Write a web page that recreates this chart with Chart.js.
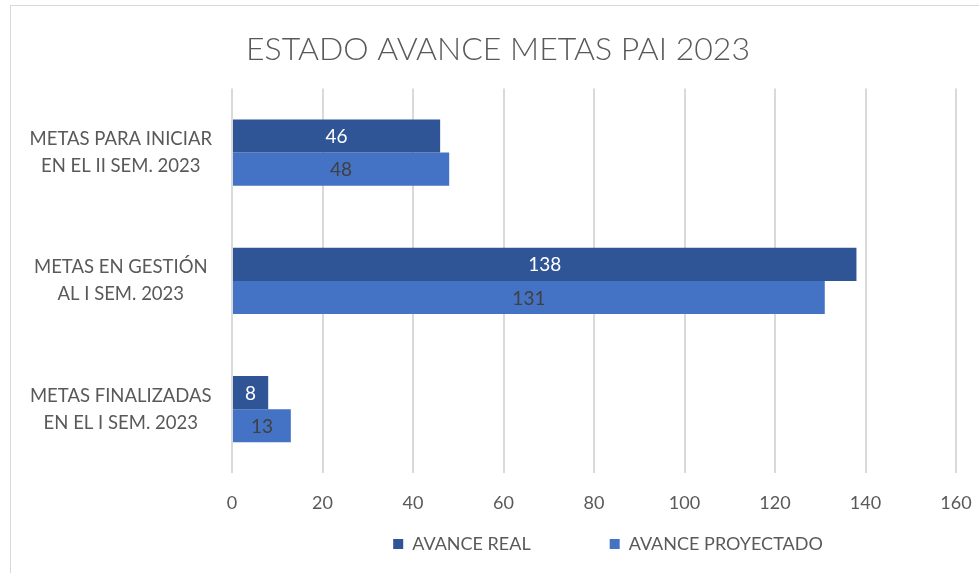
<!DOCTYPE html>
<html><head><meta charset="utf-8">
<script src="https://cdn.jsdelivr.net/npm/chart.js@4.4.0/dist/chart.umd.min.js"></script>
<style>html,body{margin:0;padding:0;background:#fff;}#wrap{width:979px;height:573px;position:relative;}</style>
</head><body><div id="wrap"><canvas id="c" width="979" height="573"></canvas></div>
<script>
const categories = [["METAS PARA INICIAR","EN EL II SEM. 2023"],["METAS EN GESTIÓN","AL I SEM. 2023"],["METAS FINALIZADAS","EN EL I SEM. 2023"]];
const avanceReal = [46, 138, 8];
const avanceProyectado = [48, 131, 13];
const seriesNames = ["AVANCE REAL", "AVANCE PROYECTADO"];
const chartTitle = "ESTADO AVANCE METAS PAI 2023";
const FONT = "Lato, 'Open Sans', sans-serif";

const borderPlugin = {
  id: 'border',
  beforeDraw(chart) {
    const ctx = chart.ctx;
    ctx.save();
    ctx.fillStyle = '#fff';
    ctx.fillRect(0,0,chart.width,chart.height);
    ctx.strokeStyle = '#d9d9d9';
    ctx.lineWidth = 1;
    ctx.strokeRect(10.5, 5.5, 1000, 700);
    ctx.restore();
  }
};
const placePlugin = {
  id: 'place',
  afterLayout(chart) {
    const lg = chart.legend;
    if (lg) {
      const w = lg.right - lg.left;
      const target = 608;
      lg.left = target - w / 2; lg.right = target + w / 2;
      lg.top = 456; lg.bottom = 573;
    }
    const tb = chart.titleBlock;
    if (tb) {
      const w = tb.right - tb.left;
      const target = 498;
      tb.left = target - w / 2; tb.right = target + w / 2;
    }
  }
};
const labelPlugin = {
  id: 'barLabels',
  afterDatasetsDraw(chart) {
    const ctx = chart.ctx;
    ctx.save();
    ctx.font = "19px " + FONT;
    ctx.textAlign = 'center';
    ctx.textBaseline = 'middle';
    chart.data.datasets.forEach((ds, di) => {
      const meta = chart.getDatasetMeta(di);
      meta.data.forEach((bar, i) => {
        const x = (bar.x + bar.base) / 2;
        ctx.fillStyle = di === 0 ? '#ffffff' : '#404040';
        ctx.fillText(String(ds.data[i]), x, bar.y + 1);
      });
    });
    ctx.restore();
  }
};

new Chart(document.getElementById('c'), {
  type: 'bar',
  data: {
    labels: categories,
    datasets: [
      { label: seriesNames[0], data: avanceReal, backgroundColor: '#2f5597', borderWidth: 0, categoryPercentage: 0.516, barPercentage: 1 },
      { label: seriesNames[1], data: avanceProyectado, backgroundColor: '#4472c4', borderWidth: 0, categoryPercentage: 0.516, barPercentage: 1 }
    ]
  },
  options: {
    indexAxis: 'y',
    responsive: false,
    animation: false,
    devicePixelRatio: 1,
    layout: { padding: { left: 12, right: 0, top: 0, bottom: 0 } },
    scales: {
      x: {
        min: 0, max: 160,
        ticks: { stepSize: 20, color: '#595959', font: { family: FONT, size: 18 }, padding: 19 },
        grid: { color: '#d9d9d9', lineWidth: 2, drawTicks: false },
        border: { display: false },
        afterFit(scale) { scale.paddingRight = 23; }
      },
      y: {
        ticks: { color: '#595959', font: { family: FONT, size: 18.5, lineHeight: 1.46 }, padding: 20, crossAlign: 'center' },
        grid: { display: false, drawTicks: false },
        border: { display: false },
        afterFit(scale) { scale.width = 220; }
      }
    },
    plugins: {
      title: { display: true, text: chartTitle, color: '#595959', font: { family: FONT, size: 32, weight: '300' }, padding: { top: 30, bottom: 20 } },
      legend: {
        position: 'bottom',
        maxHeight: 40,
        labels: { color: '#595959', font: { family: FONT, size: 18 }, boxWidth: 10, boxHeight: 10, padding: 79 }
      },
      tooltip: { enabled: false }
    }
  },
  plugins: [borderPlugin, placePlugin, labelPlugin]
});
</script></body></html>
